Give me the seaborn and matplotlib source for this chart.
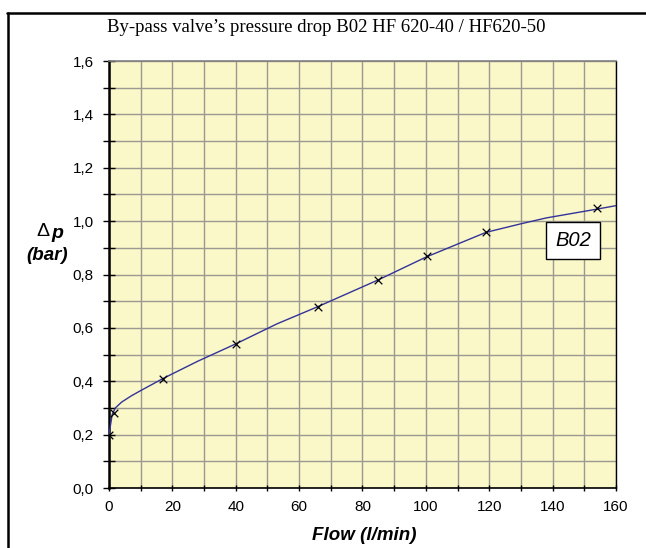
import matplotlib
matplotlib.use("Agg")
import matplotlib.pyplot as plt
import seaborn as sns
import pandas as pd
from matplotlib.ticker import MultipleLocator, FuncFormatter
from matplotlib.lines import Line2D

# curve data
curve_flow = [0, 1, 2, 4, 7, 10, 17, 28, 40, 53, 66, 85, 100, 119, 130, 138, 154, 160]
curve_dp = [0.20, 0.275, 0.30, 0.322, 0.345, 0.365, 0.41, 0.475, 0.54, 0.615, 0.68, 0.78, 0.865, 0.958, 0.99, 1.012, 1.045, 1.058]
# measured points
pt_flow = [0, 1.5, 17, 40, 66, 85, 100.5, 119, 154]
pt_dp = [0.20, 0.28, 0.41, 0.54, 0.68, 0.78, 0.87, 0.96, 1.05]

title = "By-pass valve\u2019s pressure drop B02 HF 620-40 / HF620-50"
series_label = "B02"

sns.set_style("white")
plt.rcParams['font.family'] = ['Liberation Sans', 'DejaVu Sans']
plt.rcParams['text.color'] = 'black'
plt.rcParams['xtick.color'] = 'black'
plt.rcParams['ytick.color'] = 'black'

fig = plt.figure(figsize=(6.46, 5.48), dpi=100)
ax = fig.add_axes([109/646, 60/548, (616-109)/646, (488-61)/548])
ax.set_facecolor("#FAF7C8")

df_curve = pd.DataFrame({"flow": curve_flow, "dp": curve_dp})
df_pts = pd.DataFrame({"flow": pt_flow, "dp": pt_dp})
sns.lineplot(data=df_curve, x="flow", y="dp", ax=ax, color="#333399", linewidth=1.0, zorder=3)
sns.scatterplot(data=df_pts, x="flow", y="dp", ax=ax, marker="x", color="black", s=30, linewidth=0.9, zorder=4)

ax.set_xlim(0, 160)
ax.set_ylim(0, 1.6)
ax.xaxis.set_major_locator(MultipleLocator(20))
ax.xaxis.set_minor_locator(MultipleLocator(10))
ax.yaxis.set_major_locator(MultipleLocator(0.2))
ax.yaxis.set_minor_locator(MultipleLocator(0.1))
ax.yaxis.set_major_formatter(FuncFormatter(lambda v, p: f"{v:.1f}".replace(".", ",")))
ax.grid(True, which="both", color="#9A9A90", linewidth=1.0)
ax.set_axisbelow(True)

ax.tick_params(axis="y", which="both", direction="inout", length=8, width=1.0, labelsize=11, pad=7, left=True)
ax.tick_params(axis="x", which="both", direction="inout", length=5, width=1.0, labelsize=11, pad=6, bottom=True)

for s in ["left", "bottom"]:
    ax.spines[s].set_color("black")
ax.spines["left"].set_linewidth(1.8)
ax.spines["bottom"].set_linewidth(1.2)
ax.spines["right"].set_color("black")
ax.spines["right"].set_linewidth(1.0)
ax.spines["top"].set_color("#808080")
ax.spines["top"].set_linewidth(1.2)

ax.set_xlabel("")
ax.set_ylabel("")

fig.text(364/646, 1 - 535/548, "Flow (l/min)", ha="center", va="center",
         fontsize=13.5, fontweight="bold", fontstyle="italic")
fig.text(43/646, 1 - 232/548, "\u0394", ha="center", va="center", fontsize=14)
fig.text(57/646, 1 - 233/548, "p", ha="center", va="center", fontsize=14,
         fontweight="bold", fontstyle="italic")
fig.text(47/646, 1 - 256/548, "(bar)", ha="center", va="center", fontsize=13.5,
         fontweight="bold", fontstyle="italic")
fig.text(326/646, 1 - 27/548, title, ha="center", va="center", fontsize=13.5,
         family=["Liberation Serif", "DejaVu Serif"])

ax.text(146.5, 0.926, series_label, ha="center", va="center", fontsize=14.5,
        fontstyle="italic", zorder=5,
        bbox=dict(boxstyle="square,pad=0.45", facecolor="white", edgecolor="black", linewidth=1.0))

# outer frame (top and left)
fig.add_artist(Line2D([7/646, 1.0], [1 - 13/548, 1 - 13/548], color="black", linewidth=1.8, transform=fig.transFigure))
fig.add_artist(Line2D([8/646, 8/646], [0, 1 - 13/548], color="black", linewidth=1.8, transform=fig.transFigure))

fig.savefig("out.png", dpi=100)
